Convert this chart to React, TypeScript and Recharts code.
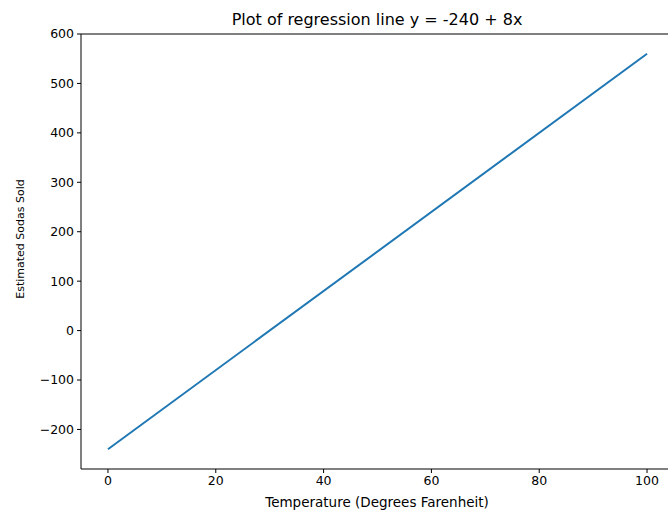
import React from 'react';
import { LineChart, Line, XAxis, YAxis, ReferenceLine } from 'recharts';

// regression line endpoints
const temps = [0, 100];
const sodas = [-240, 560];

const xTicks = [0, 20, 40, 60, 80, 100];
const yTicks = [-200, -100, 0, 100, 200, 300, 400, 500, 600];

const data = temps.map((t, i) => ({ x: t, y: sodas[i] }));

const font = '"DejaVu Sans", sans-serif';
const tickStyle = { fill: '#000', fontSize: 12.5, fontFamily: font };
const fmt = (v: number) => String(v).replace('-', '\u2212');

export default function App() {
    return (
        <div style={{ position: 'absolute', left: 0, top: 0, width: 668, height: 513, overflow: 'hidden', background: '#fff', fontFamily: font }}>
            <LineChart width={680} height={513} data={data} margin={{ top: 34, right: 6, left: 0, bottom: 0 }}>
                <XAxis
                    type="number"
                    dataKey="x"
                    domain={[-5, 105]}
                    ticks={xTicks}
                    allowDataOverflow
                    height={44}
                    tick={tickStyle}
                    tickFormatter={fmt}
                    tickSize={4}
                    tickMargin={3}
                    stroke="#000"
                />
                <YAxis
                    type="number"
                    domain={[-280, 600]}
                    ticks={yTicks}
                    allowDataOverflow
                    width={81}
                    tick={tickStyle}
                    tickFormatter={fmt}
                    tickSize={4}
                    tickMargin={3}
                    stroke="#000"
                />
                <ReferenceLine y={600} stroke="#000" />
                <Line
                    type="linear"
                    dataKey="y"
                    stroke="#1f77b4"
                    strokeWidth={2}
                    dot={false}
                    isAnimationActive={false}
                />
            </LineChart>
            <div style={{ position: 'absolute', top: 10, left: 377, transform: 'translateX(-50%)', whiteSpace: 'nowrap', fontSize: 16, color: '#000' }}>
                Plot of regression line y = -240 + 8x
            </div>
            <div style={{ position: 'absolute', top: 502, left: 377, transform: 'translate(-50%, -50%)', whiteSpace: 'nowrap', fontSize: 13.5, color: '#000' }}>
                Temperature (Degrees Farenheit)
            </div>
            <div style={{ position: 'absolute', top: 239, left: 20, transform: 'translate(-50%, -50%) rotate(-90deg)', whiteSpace: 'nowrap', fontSize: 11, color: '#000' }}>
                Estimated Sodas Sold
            </div>
        </div>
    );
}
